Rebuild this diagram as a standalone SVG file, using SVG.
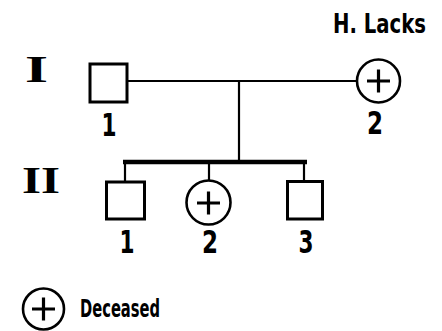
<svg xmlns="http://www.w3.org/2000/svg" width="442" height="331" viewBox="0 0 442 331">
<style>
.sq{fill:#fff;stroke:#000;stroke-width:3}
.ci{fill:#fff;stroke:#000;stroke-width:2.6}
.pl{stroke:#000;stroke-width:3.2;fill:none}
.ln{stroke:#000;stroke-width:2.2;fill:none}
.lbl{font-family:"Liberation Sans Narrow","DejaVu Sans Condensed","Liberation Sans",sans-serif;font-weight:bold;fill:#000}
.num{font-size:32px;text-anchor:middle}
.rom{font-family:"Liberation Serif","DejaVu Serif",serif;font-weight:bold;font-size:38px;fill:#000}
</style>
<rect width="442" height="331" fill="#fff"/>
<g id="connectors">
<line class="ln" x1="127" y1="81" x2="357" y2="81"/>
<line class="ln" x1="239" y1="81" x2="239" y2="162"/>
<line x1="123" y1="162" x2="307" y2="162" stroke="#000" stroke-width="4.5"/>
<line class="ln" x1="125" y1="162" x2="125" y2="182"/>
<line class="ln" x1="209" y1="162" x2="209" y2="181"/>
<line class="ln" x1="304" y1="162" x2="304" y2="181"/>
</g>
<g id="gen-I"><text class="rom" x="36.5" y="82" text-anchor="middle" textLength="23" lengthAdjust="spacingAndGlyphs">I</text></g>
<g id="gen-II"><text class="rom" x="41" y="193" text-anchor="middle" textLength="38" lengthAdjust="spacingAndGlyphs">II</text></g>
<g id="title"><text class="lbl" transform="translate(426,33) scale(0.81,1)" x="0" y="0" font-size="27" text-anchor="end">H. Lacks</text></g>
<g id="I-1">
<rect class="sq" x="90" y="64" width="37" height="38"/>
<text class="lbl num" x="109" y="136" textLength="15" lengthAdjust="spacingAndGlyphs">1</text>
</g>
<g id="I-2">
<circle class="ci" cx="378.5" cy="81" r="21.5"/>
<path class="pl" d="M367 81H390M378.5 69.5V92.5"/>
<text class="lbl num" x="375" y="134" textLength="16" lengthAdjust="spacingAndGlyphs">2</text>
</g>
<g id="II-1">
<rect class="sq" x="106.5" y="182" width="38" height="37"/>
<text class="lbl num" x="127" y="253" textLength="15" lengthAdjust="spacingAndGlyphs">1</text>
</g>
<g id="II-2">
<circle class="ci" cx="208.5" cy="202.5" r="22"/>
<path class="pl" d="M197 203H220M208.5 191.5V214.5"/>
<text class="lbl num" x="210" y="253" textLength="16" lengthAdjust="spacingAndGlyphs">2</text>
</g>
<g id="II-3">
<rect class="sq" x="287.5" y="181.5" width="35" height="37.5"/>
<text class="lbl num" x="306" y="253" textLength="15" lengthAdjust="spacingAndGlyphs">3</text>
</g>
<g id="legend">
<circle class="ci" cx="43.5" cy="309" r="20.5"/>
<path class="pl" d="M32 309H55M43.5 297.5V320.5"/>
<text class="lbl" x="80" y="317" font-size="25" textLength="80" lengthAdjust="spacingAndGlyphs">Deceased</text>
</g>
</svg>
